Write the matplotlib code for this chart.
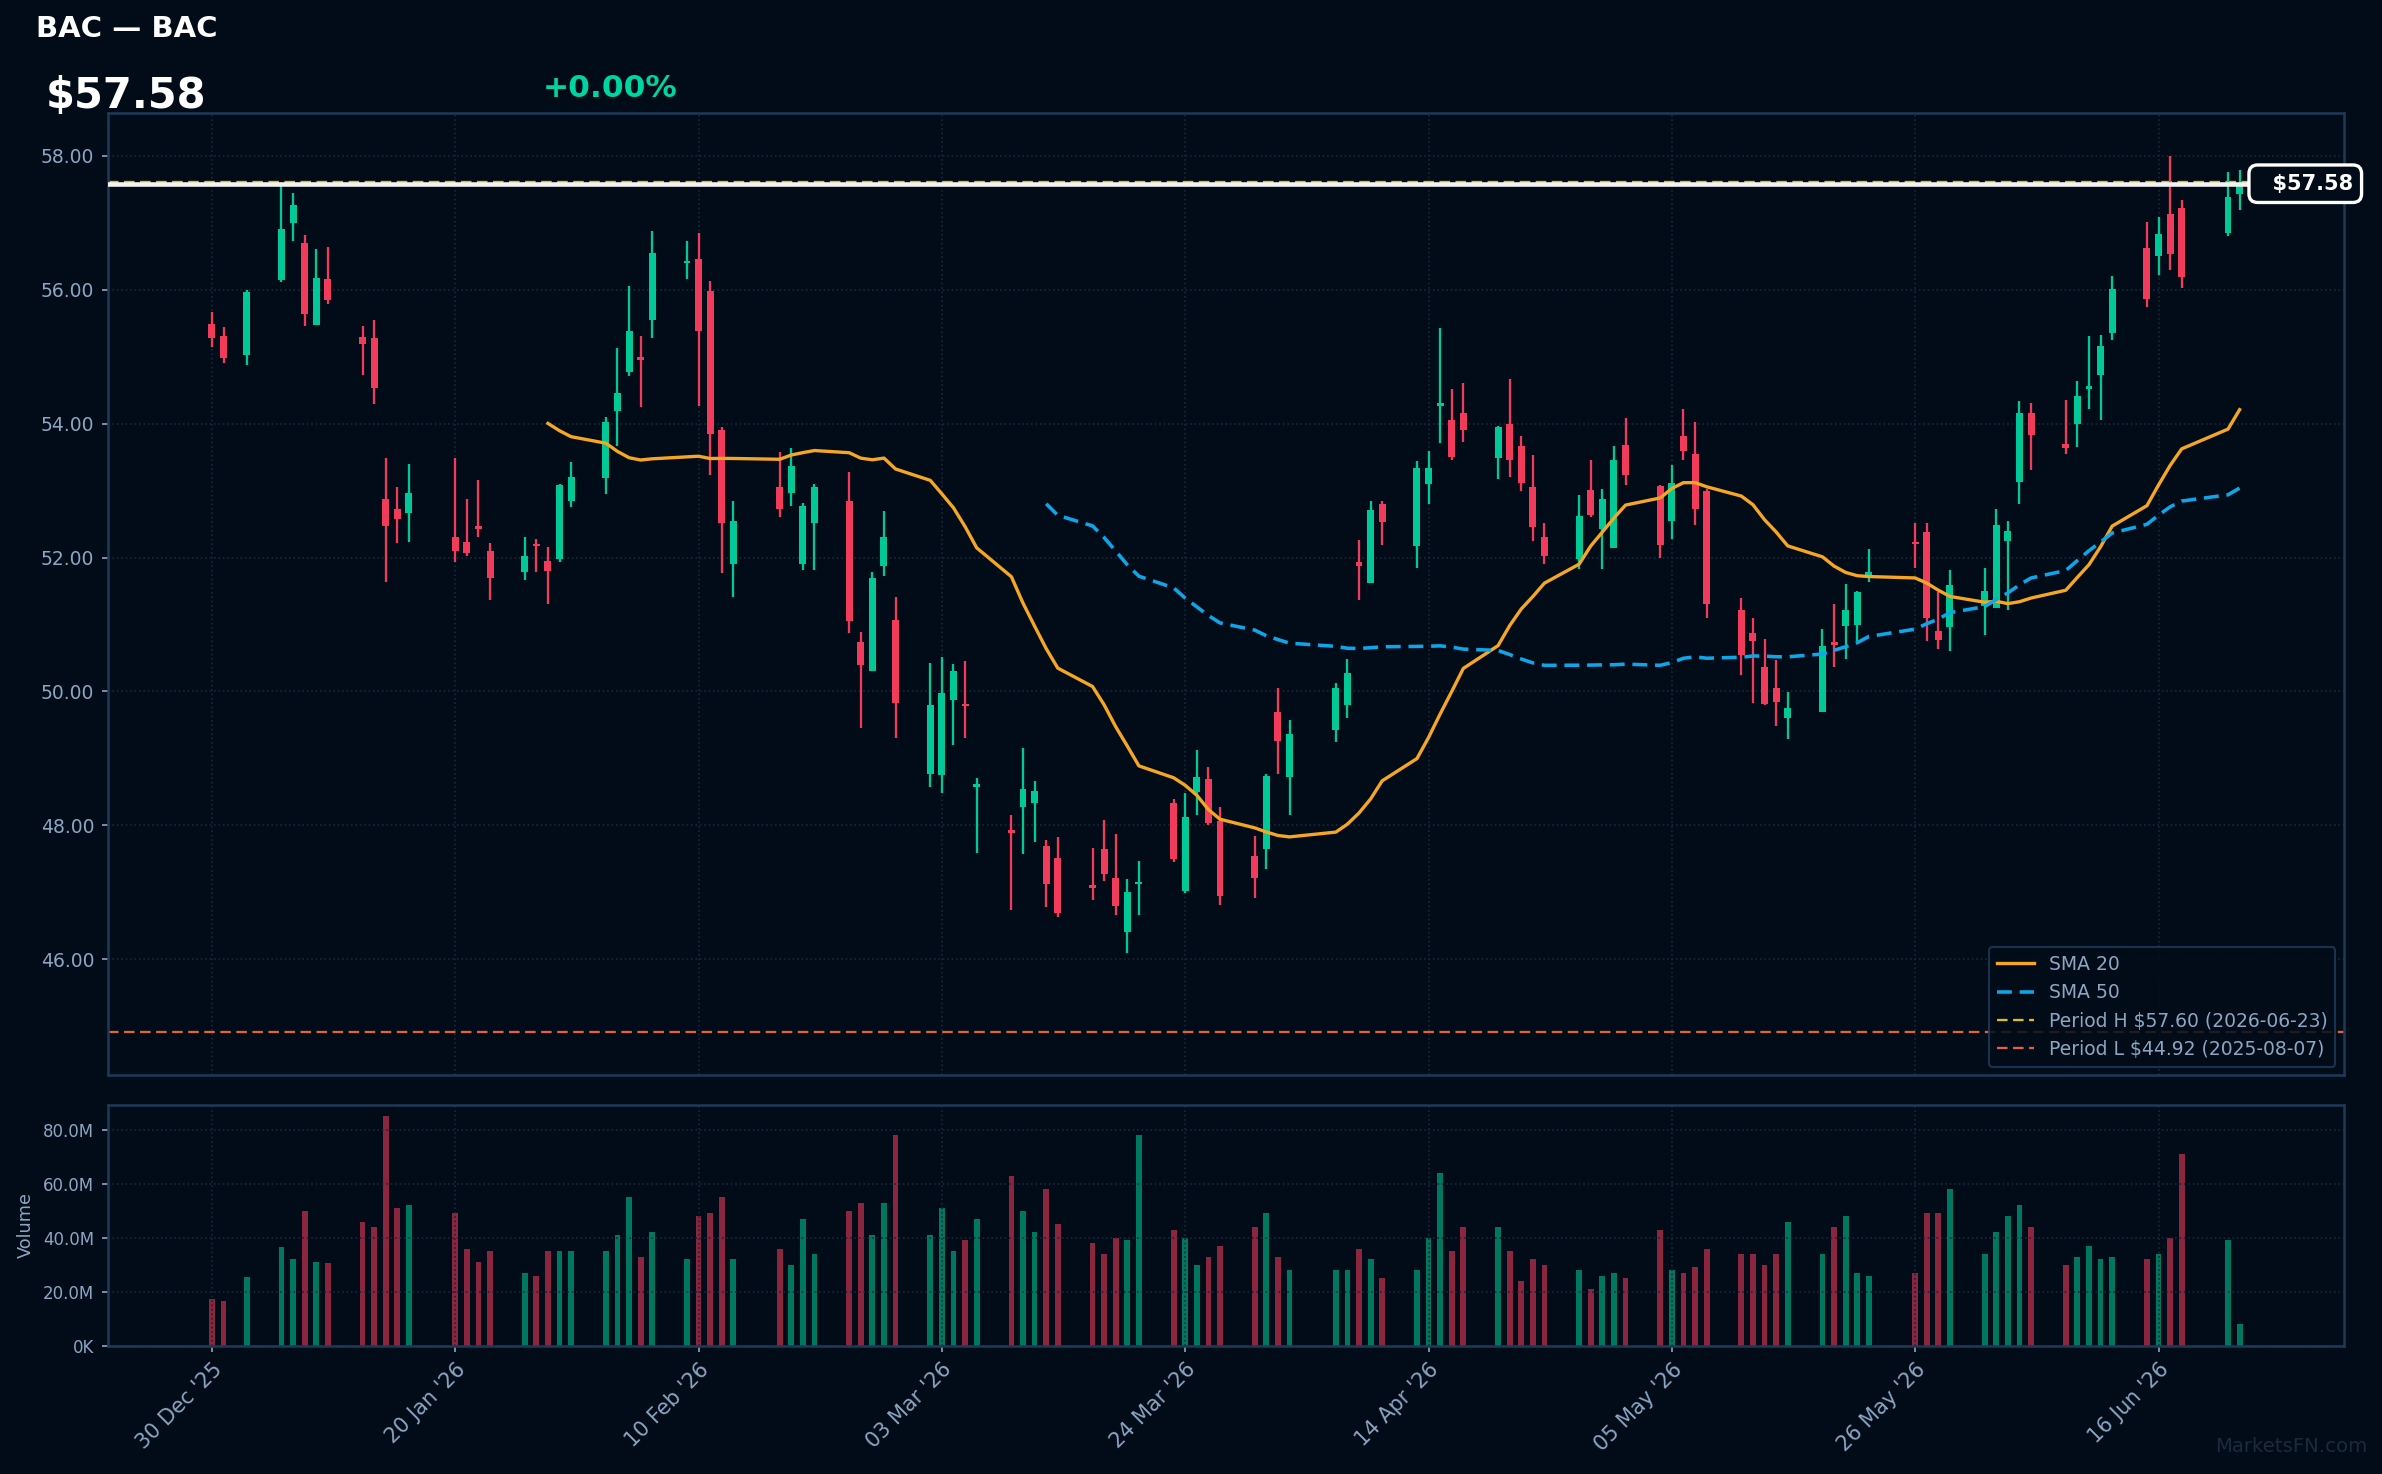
import numpy as np
import pandas as pd
import matplotlib
matplotlib.use("Agg")
import matplotlib.pyplot as plt
import matplotlib.dates as mdates
from matplotlib.ticker import FuncFormatter

# sesiones bursatiles (sin festivos de EE.UU.)
holidays = ["2026-01-01", "2026-01-19", "2026-02-16", "2026-04-03", "2026-05-25", "2026-06-19"]
dates = pd.bdate_range("2025-12-30", "2026-06-23")
dates = dates[~dates.isin(pd.to_datetime(holidays))]

opens = [55.49, 55.31, 55.02, 56.15, 57.00, 56.69, 55.47, 56.16, 55.29, 55.27,
         52.88, 52.72, 52.67, 52.31, 52.23, 52.45, 52.10, 51.79, 52.20, 51.95,
         51.98, 52.85, 53.19, 54.18, 54.77, 55.00, 55.55, 56.39, 56.45, 55.98,
         53.91, 51.90, 53.05, 52.97, 51.90, 52.52, 52.84, 50.74, 50.31, 51.88,
         51.07, 48.77, 48.75, 49.88, 49.82, 48.57, 47.93, 48.27, 48.34, 47.70,
         47.52, 47.11, 47.65, 47.22, 46.41, 47.12, 48.34, 47.02, 48.50, 48.70,
         48.07, 47.54, 47.65, 49.69, 48.73, 49.42, 49.80, 51.93, 51.62, 52.80,
         52.17, 53.09, 54.26, 54.05, 54.16, 53.48, 53.99, 53.67, 53.06, 52.31,
         51.98, 53.01, 52.42, 52.14, 53.68, 53.07, 52.55, 53.81, 53.55, 52.99,
         51.21, 50.87, 50.36, 50.05, 49.60, 49.70, 50.73, 50.98, 50.99, 51.74,
         52.23, 52.38, 50.91, 50.96, 51.27, 51.24, 52.24, 53.12, 54.16, 53.70,
         54.00, 54.52, 54.72, 55.35, 56.62, 56.50, 57.13, 57.22, 56.84, 57.42]
highs = [55.66, 55.44, 56.00, 57.54, 57.44, 56.82, 56.60, 56.63, 55.46, 55.54,
         53.49, 53.06, 53.39, 53.49, 52.88, 53.15, 52.21, 52.30, 52.27, 52.15,
         53.10, 53.42, 54.10, 55.13, 56.05, 55.30, 56.88, 56.73, 56.85, 56.13,
         53.95, 52.84, 53.57, 53.63, 52.82, 53.10, 53.27, 50.89, 51.79, 52.69,
         51.41, 50.43, 50.52, 50.41, 50.45, 48.71, 48.16, 49.16, 48.66, 47.79,
         47.83, 47.66, 48.08, 47.88, 47.20, 47.47, 48.40, 48.48, 49.12, 48.87,
         48.27, 47.85, 48.77, 50.05, 49.57, 50.13, 50.48, 52.26, 52.84, 52.84,
         53.44, 53.59, 55.42, 54.52, 54.61, 53.96, 54.66, 53.81, 53.53, 52.52,
         52.94, 53.45, 53.03, 53.67, 54.08, 53.08, 53.38, 54.21, 54.02, 53.03,
         51.40, 51.09, 50.79, 50.47, 49.99, 50.93, 51.30, 51.60, 51.50, 52.12,
         52.51, 52.51, 51.49, 51.81, 51.84, 52.73, 52.55, 54.34, 54.30, 54.35,
         54.64, 55.30, 55.32, 56.20, 57.01, 57.09, 58.00, 57.34, 57.75, 57.79]
lows = [55.14, 54.91, 54.87, 56.12, 56.73, 55.45, 55.47, 55.79, 54.73, 54.29,
        51.64, 52.21, 52.23, 51.94, 52.03, 52.31, 51.36, 51.66, 51.79, 51.30,
        51.94, 52.76, 52.95, 53.67, 54.71, 54.25, 55.27, 56.16, 54.26, 53.23,
        51.77, 51.41, 52.61, 52.77, 51.82, 51.82, 50.88, 49.45, 50.31, 51.73,
        49.30, 48.57, 48.48, 49.20, 49.31, 47.59, 46.74, 47.58, 47.76, 46.78,
        46.64, 46.88, 47.17, 46.66, 46.10, 46.66, 47.46, 46.99, 48.16, 48.01,
        46.82, 46.91, 47.35, 48.77, 48.16, 49.24, 49.60, 51.37, 51.62, 52.19,
        51.84, 52.80, 53.71, 53.45, 53.73, 53.17, 53.20, 52.99, 52.24, 51.91,
        51.83, 52.61, 51.83, 52.14, 53.08, 51.99, 52.27, 53.45, 52.48, 51.09,
        50.25, 49.83, 49.80, 49.49, 49.29, 49.70, 50.37, 50.48, 50.75, 51.64,
        51.84, 50.75, 50.63, 50.60, 50.84, 51.24, 51.21, 52.80, 53.30, 53.55,
        53.65, 54.21, 54.06, 55.25, 55.74, 56.22, 56.29, 56.02, 56.80, 57.19]
closes = [55.27, 54.98, 55.96, 56.90, 57.26, 55.64, 56.18, 55.84, 55.19, 54.53,
          52.47, 52.58, 52.97, 52.09, 52.06, 52.43, 51.70, 52.02, 52.17, 51.80,
          53.08, 53.20, 54.02, 54.45, 55.38, 54.95, 56.54, 56.42, 55.38, 53.84,
          52.52, 52.55, 52.73, 53.36, 52.77, 53.06, 51.05, 50.39, 51.69, 52.30,
          49.83, 49.80, 49.97, 50.30, 49.78, 48.62, 47.89, 48.55, 48.52, 47.12,
          46.70, 47.06, 47.27, 46.80, 47.01, 47.14, 47.50, 48.13, 48.73, 48.03,
          46.95, 47.21, 48.74, 49.26, 49.36, 50.05, 50.27, 51.88, 52.71, 52.53,
          53.34, 53.34, 54.30, 53.50, 53.91, 53.95, 53.46, 53.11, 52.45, 52.03,
          52.62, 52.64, 52.88, 53.45, 53.23, 52.19, 53.11, 53.59, 52.73, 51.30,
          50.55, 50.76, 49.82, 49.84, 49.76, 50.68, 50.70, 51.21, 51.48, 51.78,
          52.20, 51.09, 50.77, 51.59, 51.50, 52.48, 52.40, 54.16, 53.83, 53.63,
          54.41, 54.54, 55.16, 56.01, 55.86, 56.83, 56.53, 56.19, 57.38, 57.58]
volumes_m = [17.5, 16.5, 25.5, 36.5, 32, 50, 31, 30.5, 46, 44,
             85, 51, 52, 49, 36, 31, 35, 27, 26, 35,
             35, 35, 35, 41, 55, 33, 42, 32, 48, 49,
             55, 32, 36, 30, 47, 34, 50, 53, 41, 53,
             78, 41, 51, 35, 39, 47, 63, 50, 42, 58,
             45, 38, 34, 40, 39, 78, 43, 40, 30, 33,
             37, 44, 49, 33, 28, 28, 28, 36, 32, 25,
             28, 40, 64, 35, 44, 44, 35, 24, 32, 30,
             28, 21, 26, 27, 25, 43, 28, 27, 29, 36,
             34, 34, 30, 34, 46, 34, 44, 48, 27, 26,
             27, 49, 49, 58, 34, 42, 48, 52, 44, 30,
             33, 37, 32, 33, 32, 34, 40, 71, 39, 8]

period_high = 57.60
period_low = 44.92
last_price = closes[-1]

BG = "#020c18"
TXT = "#8ca5c3"
SPINE = "#1e3a5a"
GRID = "#17273a"
UP = "#00c896"
DOWN = "#f23a5a"

df = pd.DataFrame({"open": opens, "high": highs, "low": lows, "close": closes,
                   "volume": np.array(volumes_m) * 1e6}, index=dates)
df["sma20"] = df["close"].rolling(20).mean()
df["sma50"] = df["close"].rolling(50).mean()

x = mdates.date2num(df.index.to_pydatetime())
up = df["close"] >= df["open"]
colors = np.where(up, UP, DOWN)

fig = plt.figure(figsize=(2382 / 150, 1474 / 150), dpi=150, facecolor=BG)
ax = fig.add_axes([0.0452, 0.2707, 0.9388, 0.6526], facecolor=BG)
axv = fig.add_axes([0.0452, 0.0870, 0.9388, 0.1635], facecolor=BG, sharex=ax)

# velas
ax.vlines(x, df["low"], df["high"], colors=colors, linewidth=1.1, zorder=3)
body_low = np.minimum(df["open"], df["close"])
body_h = np.maximum((df["close"] - df["open"]).abs(), 0.035)
ax.bar(x, body_h, bottom=body_low, width=0.6, color=colors, linewidth=0, zorder=4)

# medias moviles
ax.plot(x, df["sma20"], color="#f5a623", linewidth=1.6, label="SMA 20", zorder=5)
ax.plot(x, df["sma50"], color="#0ea5e9", linewidth=1.7, linestyle=(0, (4.2, 2.2)),
        label="SMA 50", zorder=5)

ax.axhline(period_high, color="#e0c000", linewidth=1.1, linestyle=(0, (4.6, 2.4)),
           label=f"Period H ${period_high:.2f} (2026-06-23)", zorder=2)
ax.axhline(period_low, color="#e2623a", linewidth=1.1, linestyle=(0, (4.6, 2.4)),
           label=f"Period L ${period_low:.2f} (2025-08-07)", zorder=2)
ax.axhline(last_price, color="#f2f2f2", linewidth=2.2, zorder=6)

ax.annotate(f"  ${last_price:.2f}", xy=(1.004, last_price), xycoords=("axes fraction", "data"),
            ha="right", va="center", color="white", fontsize=10, fontweight="bold", zorder=10,
            annotation_clip=False,
            bbox=dict(boxstyle="round,pad=0.42", fc=BG, ec="white", lw=1.6))

ax.set_ylim(44.275, 58.635)
ax.set_yticks(np.arange(46, 58.1, 2))
ax.yaxis.set_major_formatter(FuncFormatter(lambda v, p: f"{v:.2f}"))
ax.grid(True, color=GRID, linestyle=":", linewidth=0.8)
ax.tick_params(axis="y", colors=TXT, labelsize=9, length=3)
ax.tick_params(axis="x", labelbottom=False, length=0)

leg = ax.legend(loc="lower right", fontsize=9, facecolor=BG, edgecolor=SPINE,
                labelcolor=TXT, framealpha=0.85, borderaxespad=0.45)
leg.get_frame().set_linewidth(1.0)

# volumen
axv.bar(x, df["volume"], width=0.5, color=colors, alpha=0.58, linewidth=0)
axv.set_ylim(0, df["volume"].max() * 1.05)
axv.set_yticks([0, 20e6, 40e6, 60e6, 80e6])
axv.yaxis.set_major_formatter(FuncFormatter(
    lambda v, p: f"{v / 1e6:.1f}M" if v >= 1e6 else f"{v / 1e3:.0f}K"))
axv.set_ylabel("Volume", color=TXT, fontsize=8.5)
axv.grid(True, color=GRID, linestyle=":", linewidth=0.8)
axv.tick_params(axis="y", colors=TXT, labelsize=8, length=3)
axv.tick_params(axis="x", colors=TXT, labelsize=10, length=3)

ticks = pd.date_range("2025-12-30", periods=9, freq="21D")
axv.set_xticks(mdates.date2num(ticks.to_pydatetime()))
axv.xaxis.set_major_formatter(mdates.DateFormatter("%d %b '%y"))
plt.setp(axv.get_xticklabels(), rotation=45, ha="right", rotation_mode="anchor")
axv.set_xlim(x[0] - 9, x[-1] + 9)

for a in (ax, axv):
    for s in a.spines.values():
        s.set_color(SPINE)
        s.set_linewidth(1.2)

fig.text(0.0153, 0.975, "BAC — BAC", color="white", fontsize=14, fontweight="bold")
fig.text(0.0191, 0.9267, f"${last_price:.2f}", color="white", fontsize=20, fontweight="bold")
fig.text(0.2277, 0.934, "+0.00%", color="#00d4a0", fontsize=15, fontweight="bold")
fig.text(0.994, 0.012, "MarketsFN.com", color="#1b2a3c", fontsize=9.5, ha="right", va="bottom")

plt.savefig("out.png", dpi=150, facecolor=BG)
